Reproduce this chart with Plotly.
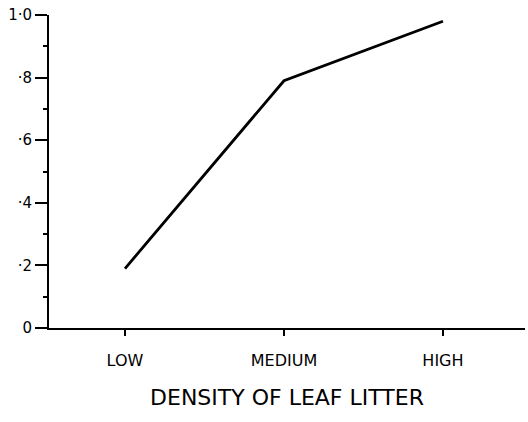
import plotly.graph_objects as go

# Proportion of sites occupied at each level of leaf-litter density
density_levels = ["LOW", "MEDIUM", "HIGH"]
proportion = [0.19, 0.79, 0.98]

y_tick_values = [0, 0.2, 0.4, 0.6, 0.8, 1.0]
y_tick_labels = ["0", "·2", "·4", "·6", "·8", "1·0"]

fig = go.Figure()
fig.add_trace(go.Scatter(
    x=[0, 1, 2],
    y=proportion,
    mode="lines",
    line=dict(color="black", width=2.8),
    hoverinfo="skip",
))

font_main = "DejaVu Sans"

fig.update_layout(
    width=528,
    height=422,
    margin=dict(l=49, r=3, t=15, b=94),
    paper_bgcolor="white",
    plot_bgcolor="white",
    showlegend=False,
    font=dict(family=font_main, color="black"),
    xaxis=dict(
        range=[-0.478, 2.516],
        tickvals=[0, 1, 2],
        ticktext=density_levels,
        ticks="outside",
        ticklen=6,
        tickwidth=2,
        tickcolor="black",
        ticklabelstandoff=11,
        tickfont=dict(size=16, family=font_main),
        showline=True,
        linecolor="black",
        linewidth=2,
        showgrid=False,
        zeroline=False,
        title=dict(text="DENSITY OF LEAF LITTER", font=dict(size=22, family=font_main), standoff=20),
    ),
    yaxis=dict(
        range=[0, 1.0],
        tickvals=y_tick_values,
        ticktext=y_tick_labels,
        ticks="outside",
        ticklen=12,
        tickwidth=2,
        tickcolor="black",
        tickfont=dict(size=15, family=font_main),
        showline=True,
        linecolor="black",
        linewidth=2,
        showgrid=False,
        zeroline=False,
        minor=dict(dtick=0.1, ticks="outside", ticklen=4, tickwidth=2, tickcolor="black", showgrid=False),
    ),
)

fig.write_html("out.html")
